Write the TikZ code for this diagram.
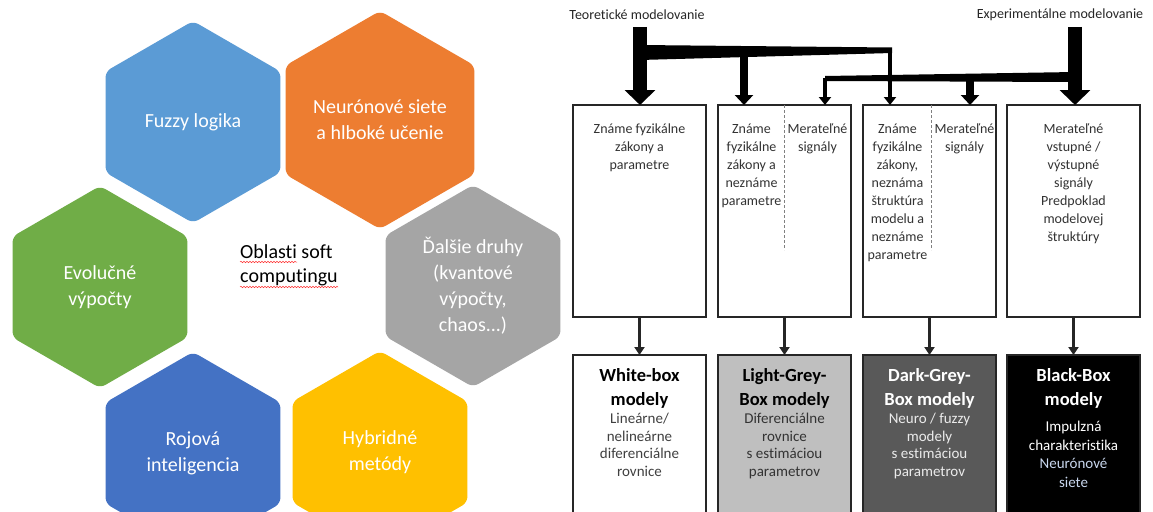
\documentclass[tikz,border=0pt]{standalone}
\usepackage{fontspec}
\setmainfont{Carlito}[Ligatures=NoCommon]
\usetikzlibrary{shapes.geometric,arrows.meta,decorations.pathmorphing}

\definecolor{fuzzyblue}{HTML}{5B9BD5}
\definecolor{neuroorange}{HTML}{ED7D31}
\definecolor{othergrey}{HTML}{A5A5A5}
\definecolor{evogreen}{HTML}{70AD47}
\definecolor{swarmblue}{HTML}{4472C4}
\definecolor{hybridyellow}{HTML}{FFC000}
\definecolor{lightgreybox}{HTML}{BFBFBF}
\definecolor{darkgreybox}{HTML}{595959}
\definecolor{neurolink}{HTML}{C9D7EE}

\begin{document}
\begin{tikzpicture}[x=1pt, y=-1pt,
    hexcell/.style={regular polygon, regular polygon sides=6, shape border rotate=30, minimum size=202pt, inner sep=0pt, outer sep=0pt, rounded corners=6pt, text=white, align=center, font=\fontsize{20}{26}\selectfont},
    modelbox/.style={draw=black!85, line width=2.2pt, minimum width=133pt, anchor=north west, inner sep=0pt, outer sep=0pt},
    boxtext/.style={anchor=north, align=center, inner sep=0pt, text=black!80, font=\fontsize{14}{18}\selectfont},
    boxtitle/.style={anchor=north, align=center, inner sep=0pt, font=\fontsize{18.5}{24.5}\selectfont\bfseries},
    boxbody/.style={anchor=north, align=center, inner sep=0pt, font=\fontsize{15}{17.5}\selectfont},
    bigarrow/.style={line width=14pt, -{Triangle[width=30pt,length=15pt]}},
    midarrow/.style={line width=7.5pt, -{Triangle[width=18pt,length=10pt]}},
    thinarrow/.style={line width=4pt, -{Triangle[width=12pt,length=8pt]}},
    flowarrow/.style={line width=3pt, black!85, -{Triangle[width=10pt,length=8pt]}},
    spellmark/.style={draw=red!80, line width=0.5pt, decorate, decoration={snake, amplitude=0.7pt, segment length=3pt}}]

    % Page frame
    \fill[white] (0,0) rectangle (1153,511);
    \clip (0,0) rectangle (1153,511);

    % Soft computing honeycomb
    \node[hexcell, fill=fuzzyblue] (fuzzy) at (193,122) {Fuzzy logika};
    \node[hexcell, fill=neuroorange] (neuro) at (380,120) {Neurónové siete\\a hlboké učenie};
    \node[hexcell, fill=evogreen] (evo) at (100,287) {Evolučné\\výpočty};
    \node[hexcell, fill=othergrey] (other) at (473,286) {Ďalšie druhy\\(kvantové\\výpočty,\\chaos...)};
    \node[hexcell, fill=swarmblue] (swarm) at (193,453) {Rojová\\inteligencia};
    \node[hexcell, fill=hybridyellow] (hybrid) at (380,452) {Hybridné\\metódy};

    \node[anchor=north west, align=left, inner sep=0pt, font=\fontsize{20}{24.5}\selectfont] (centre) at (240,244) {Oblasti soft\\computingu};
    \draw[spellmark] (240,262) -- (297,262);
    \draw[spellmark] (240,287) -- (338,287);

    % Modelling approaches
    \node[inner sep=0pt, text=black!85, font=\fontsize{14}{17}\selectfont] (teo) at (637,15) {Teoretické modelovanie};
    \node[inner sep=0pt, text=black!85, font=\fontsize{14}{17}\selectfont] (exp) at (1060,15) {Experimentálne modelovanie};

    % Upper boxes with the known facts
    \node[modelbox, minimum height=212pt] (tb1) at (573,105) {};
    \node[modelbox, minimum height=212pt] (tb2) at (718,105) {};
    \node[modelbox, minimum height=212pt] (tb3) at (863,105) {};
    \node[modelbox, minimum height=212pt] (tb4) at (1007,105) {};
    \draw[black!50, line width=0.6pt, dash pattern=on 3pt off 2pt] (tb2.north) -- ++(0,145);
    \draw[black!50, line width=0.6pt, dash pattern=on 3pt off 2pt] ([xshift=2pt]tb3.north) -- ++(0,145);

    \node[boxtext] (tb1a) at ([yshift=-19pt]tb1.north) {Známe fyzikálne\\zákony a\\parametre};
    \node[boxtext] (tb2a) at ([xshift=-33pt,yshift=-19pt]tb2.north) {Známe\\fyzikálne\\zákony a\\neznáme\\parametre};
    \node[boxtext] (tb2b) at ([xshift=33pt,yshift=-19pt]tb2.north) {Merateľné\\signály};
    \node[boxtext] (tb3a) at ([xshift=-32pt,yshift=-19pt]tb3.north) {Známe\\fyzikálne\\zákony,\\neznáma\\štruktúra\\modelu a\\neznáme\\parametre};
    \node[boxtext] (tb3b) at ([xshift=35pt,yshift=-19pt]tb3.north) {Merateľné\\signály};
    \node[boxtext] (tb4a) at ([yshift=-19pt]tb4.north) {Merateľné\\vstupné /\\výstupné\\signály\\Predpoklad\\modelovej\\štruktúry};

    % Lower boxes with the model families
    \node[modelbox, minimum height=175pt, fill=white] (bb1) at (573,355) {};
    \node[modelbox, minimum height=175pt, fill=lightgreybox] (bb2) at (718,355) {};
    \node[modelbox, minimum height=175pt, fill=darkgreybox] (bb3) at (863,355) {};
    \node[modelbox, minimum height=175pt, fill=black] (bb4) at (1007,355) {};

    \node[boxtitle] (bb1h) at ([yshift=-13pt]bb1.north) {White-box\\modely};
    \node[boxbody, text=black!75] (bb1a) at ([yshift=-58pt]bb1.north) {Lineárne/\\nelineárne\\diferenciálne\\rovnice};
    \node[boxtitle] (bb2h) at ([yshift=-13pt]bb2.north) {Light-Grey-\\Box modely};
    \node[boxbody, text=black!80] (bb2a) at ([yshift=-58pt]bb2.north) {Diferenciálne\\rovnice\\s estimáciou\\parametrov};
    \node[boxtitle, text=white] (bb3h) at ([yshift=-13pt]bb3.north) {Dark-Grey-\\Box modely};
    \node[boxbody, text=black!8] (bb3a) at ([yshift=-58pt]bb3.north) {Neuro / fuzzy\\modely\\s estimáciou\\parametrov};
    \node[boxtitle, text=white] (bb4h) at ([yshift=-13pt]bb4.north) {Black-Box\\modely};
    \node[boxbody, text=white, font=\fontsize{15}{18.5}\selectfont] (bb4a) at ([yshift=-66pt]bb4.north) {Impulzná\\charakteristika\\\textcolor{neurolink}{Neurónové}\\\textcolor{neurolink}{siete}};

    % Feeds from the two approaches
    \coordinate (teofoot) at (640,27);
    \coordinate (expfoot) at (1075,27);
    \fill[black] (640,45) -- (892,47.5) -- (892,53) -- (640,60) -- cycle;
    \fill[black] (825,76) -- (1075,72) -- (1075,82) -- (825,81) -- cycle;
    \coordinate (teosplit) at (744,56);
    \coordinate (teoend) at (890,50);
    \coordinate (expsplit) at (970,80);
    \coordinate (expend) at (825,78);

    \draw[bigarrow] (teofoot) -- (teofoot |- tb1.north);
    \draw[bigarrow] (expfoot) -- (expfoot |- tb4.north);
    \draw[midarrow] (teosplit) -- (teosplit |- tb2.north);
    \draw[thinarrow] (teoend) -- (teoend |- tb3.north);
    \draw[midarrow] (expsplit) -- (expsplit |- tb3.north);
    \draw[thinarrow] (expend) -- (expend |- tb2.north);

    % From facts to models
    \draw[flowarrow] (tb1.south) -- (bb1.north);
    \draw[flowarrow] (tb2.south) -- (bb2.north);
    \draw[flowarrow] (tb3.south) -- (bb3.north);
    \draw[flowarrow] (tb4.south) -- (bb4.north);
\end{tikzpicture}
\end{document}
